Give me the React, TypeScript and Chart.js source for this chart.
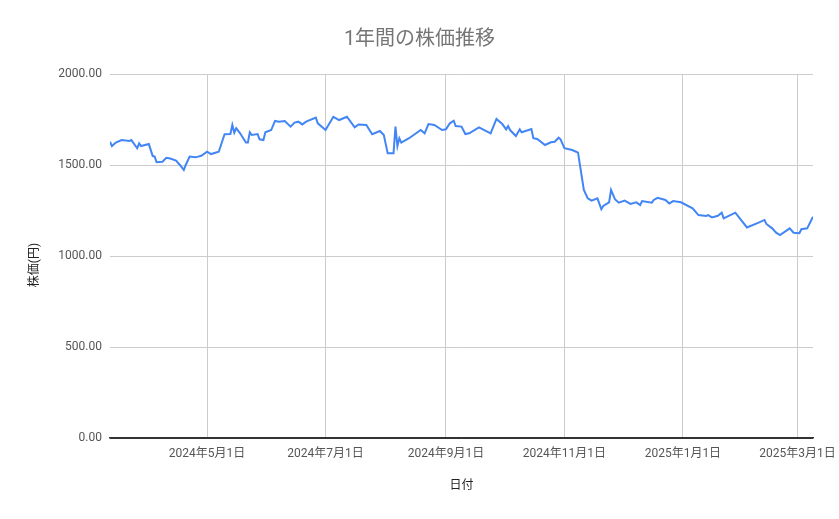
import React, { useEffect, useRef } from "react";
import { Chart, registerables } from "chart.js";

Chart.register(...registerables);

const CHART_TITLE = "1年間の株価推移";
const X_TITLE = "日付";
const Y_TITLE = "株価(円)";

const dates: string[] = [
  "2024-03-12", "2024-03-13", "2024-03-15", "2024-03-18", "2024-03-22", "2024-03-23",
  "2024-03-26", "2024-03-27", "2024-03-28", "2024-04-01", "2024-04-03", "2024-04-04",
  "2024-04-05", "2024-04-08", "2024-04-10", "2024-04-12", "2024-04-15", "2024-04-17",
  "2024-04-19", "2024-04-20", "2024-04-22", "2024-04-25", "2024-04-28", "2024-05-01",
  "2024-05-03", "2024-05-07", "2024-05-10", "2024-05-13", "2024-05-14", "2024-05-15",
  "2024-05-16", "2024-05-18", "2024-05-21", "2024-05-22", "2024-05-23", "2024-05-24",
  "2024-05-27", "2024-05-28", "2024-05-30", "2024-05-31", "2024-06-03", "2024-06-05",
  "2024-06-07", "2024-06-10", "2024-06-13", "2024-06-15", "2024-06-17", "2024-06-19",
  "2024-06-21", "2024-06-26", "2024-06-27", "2024-07-01", "2024-07-05", "2024-07-08",
  "2024-07-12", "2024-07-16", "2024-07-18", "2024-07-22", "2024-07-25", "2024-07-29",
  "2024-07-31", "2024-08-02", "2024-08-05", "2024-08-06", "2024-08-07", "2024-08-08",
  "2024-08-09", "2024-08-13", "2024-08-19", "2024-08-21", "2024-08-23", "2024-08-26",
  "2024-08-30", "2024-09-01", "2024-09-03", "2024-09-05", "2024-09-06", "2024-09-09",
  "2024-09-11", "2024-09-13", "2024-09-18", "2024-09-24", "2024-09-27", "2024-09-30",
  "2024-10-02", "2024-10-03", "2024-10-04", "2024-10-07", "2024-10-09", "2024-10-10",
  "2024-10-15", "2024-10-16", "2024-10-18", "2024-10-22", "2024-10-25", "2024-10-27",
  "2024-10-29", "2024-10-30", "2024-11-01", "2024-11-05", "2024-11-07", "2024-11-08",
  "2024-11-11", "2024-11-13", "2024-11-15", "2024-11-18", "2024-11-20", "2024-11-21",
  "2024-11-24", "2024-11-25", "2024-11-27", "2024-11-29", "2024-12-02", "2024-12-05",
  "2024-12-08", "2024-12-10", "2024-12-11", "2024-12-16", "2024-12-17", "2024-12-19",
  "2024-12-23", "2024-12-25", "2024-12-27", "2024-12-31", "2025-01-06", "2025-01-09",
  "2025-01-13", "2025-01-14", "2025-01-16", "2025-01-19", "2025-01-21", "2025-01-22",
  "2025-01-28", "2025-02-03", "2025-02-09", "2025-02-12", "2025-02-13", "2025-02-16",
  "2025-02-18", "2025-02-20", "2025-02-25", "2025-02-27", "2025-03-02", "2025-03-03",
  "2025-03-06", "2025-03-09",
];

const prices: number[] = [
  1628, 1604, 1623, 1637, 1632, 1637,
  1592, 1619, 1604, 1615, 1549, 1546,
  1515, 1518, 1540, 1536, 1524, 1500,
  1473, 1500, 1546, 1542, 1551, 1573,
  1560, 1573, 1669, 1670, 1720, 1678,
  1702, 1674, 1623, 1623, 1680, 1665,
  1670, 1641, 1637, 1680, 1692, 1742,
  1738, 1742, 1711, 1733, 1738, 1723,
  1738, 1760, 1729, 1692, 1765, 1747,
  1765, 1707, 1723, 1720, 1669, 1687,
  1665, 1564, 1564, 1711, 1604, 1647,
  1623, 1647, 1692, 1674, 1725, 1720,
  1692, 1696, 1729, 1743, 1714, 1711,
  1670, 1674, 1707, 1674, 1753, 1725,
  1696, 1714, 1692, 1659, 1696, 1680,
  1698, 1647, 1643, 1610, 1625, 1628,
  1650, 1641, 1592, 1582, 1573, 1568,
  1363, 1317, 1304, 1317, 1257, 1275,
  1295, 1363, 1312, 1293, 1304, 1286,
  1295, 1280, 1302, 1293, 1308, 1320,
  1308, 1289, 1302, 1295, 1262, 1225,
  1220, 1225, 1212, 1221, 1238, 1207,
  1238, 1157, 1183, 1198, 1176, 1152,
  1128, 1115, 1152, 1128, 1125, 1147,
  1152, 1216,
];

const xTickDates: string[] = [
  "2024-05-01", "2024-07-01", "2024-09-01", "2024-11-01", "2025-01-01", "2025-03-01",
];

const yTickValues: number[] = [0, 500, 1000, 1500, 2000];

const DAY_MS = 86400000;
const toDay = (s: string): number => {
  const [y, m, d] = s.split("-").map(Number);
  return Date.UTC(y, m - 1, d) / DAY_MS;
};
const formatDay = (v: number): string => {
  const dt = new Date(Math.round(v) * DAY_MS);
  return `${dt.getUTCFullYear()}年${dt.getUTCMonth() + 1}月${dt.getUTCDate()}日`;
};

const FONT = "Roboto, 'Noto Sans CJK JP', sans-serif";

const yTitlePlugin = {
  id: "yTitlePlugin",
  afterDraw(chart: any) {
    const ctx = chart.ctx;
    ctx.save();
    ctx.translate(35, 265);
    ctx.rotate(-Math.PI / 2);
    ctx.font = `12px ${FONT}`;
    ctx.fillStyle = "#222222";
    ctx.textAlign = "center";
    ctx.textBaseline = "middle";
    ctx.fillText(Y_TITLE, 0, 0);
    ctx.restore();
  },
};

export default function App() {
  const canvasRef = useRef<HTMLCanvasElement | null>(null);

  useEffect(() => {
    if (!canvasRef.current) return;
    const points = dates.map((d, i) => ({ x: toDay(d), y: prices[i] }));
    const chart = new Chart(canvasRef.current, {
      type: "line",
      data: {
        datasets: [
          {
            label: Y_TITLE,
            data: points,
            borderColor: "#4285F4",
            borderWidth: 2,
            pointRadius: 0,
            tension: 0,
            fill: false,
          },
        ],
      },
      plugins: [yTitlePlugin],
      options: {
        animation: false,
        responsive: false,
        devicePixelRatio: 1,
        layout: { padding: 0 },
        plugins: {
          legend: { display: false },
          tooltip: { enabled: false },
          title: {
            display: true,
            text: CHART_TITLE,
            color: "#757575",
            font: { family: FONT, size: 20, weight: "normal" },
            padding: { top: 28, bottom: 22 },
          },
        },
        scales: {
          x: {
            type: "linear",
            min: toDay(dates[0]),
            max: toDay(dates[dates.length - 1]),
            afterBuildTicks: (scale: any) => {
              scale.ticks = xTickDates.map((d) => ({ value: toDay(d) }));
            },
            afterFit: (scale: any) => {
              scale.height = 81;
              scale.paddingRight = 26;
              scale.paddingLeft = 0;
            },
            ticks: {
              autoSkip: false,
              maxRotation: 0,
              minRotation: 0,
              padding: 9,
              color: "#555555",
              font: { family: FONT, size: 12 },
              callback: (v: any) => formatDay(Number(v)),
            },
            grid: {
              color: "#cccccc",
              lineWidth: 1,
              drawTicks: false,
            },
            border: { display: true, color: "#333333", width: 1.5 },
            title: {
              display: true,
              text: X_TITLE,
              color: "#222222",
              font: { family: FONT, size: 12 },
              padding: { top: 0, bottom: 25.8 },
            },
          },
          y: {
            type: "linear",
            min: 0,
            max: 2000,
            afterBuildTicks: (scale: any) => {
              scale.ticks = yTickValues.map((v) => ({ value: v }));
            },
            afterFit: (scale: any) => {
              scale.width = 110;
            },
            ticks: {
              padding: 8,
              color: "#555555",
              font: { family: FONT, size: 12 },
              callback: (v: any) => Number(v).toFixed(2),
            },
            grid: {
              color: (c: any) => (c.tick && c.tick.value === 0 ? "#333333" : "#cccccc"),
              lineWidth: 1,
              drawTicks: false,
            },
            border: { display: false },
          },
        },
      },
    });
    return () => chart.destroy();
  }, []);

  return (
    <div style={{ position: "absolute", left: 0, top: 0, width: 839, height: 519, background: "#ffffff" }}>
      <canvas ref={canvasRef} width={839} height={519} />
    </div>
  );
}
